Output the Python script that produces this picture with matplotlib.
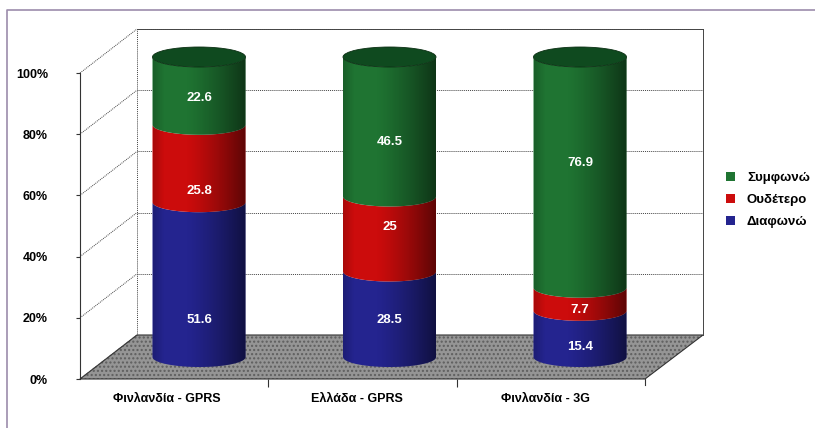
import matplotlib.pyplot as plt
import numpy as np
from matplotlib.patches import Polygon, Ellipse, Patch

plt.rcParams['font.family'] = ['Liberation Sans', 'DejaVu Sans']

categories = ['Φινλανδία - GPRS', 'Ελλάδα - GPRS', 'Φινλανδία - 3G']
series = ['Διαφωνώ', 'Ουδέτερο', 'Συμφωνώ']
diafono = [51.6, 28.5, 15.4]
oudetero = [25.8, 25, 7.7]
symfono = [22.6, 46.5, 76.9]
yticks = [0, 20, 40, 60, 80, 100]

# where the value labels sit inside each segment (in %)
label_y = [[12.3, 55.3, 86.3],
           [12.3, 43.3, 71.7],
           [3.3, 15.7, 64.7]]

colors = ['#24248f', '#cc0c0c', '#1f7432']
top_col = '#0f4a1f'

W, H = 815, 428
fig = plt.figure(figsize=(W / 100, H / 100), dpi=100)


def rect(x0, y0, x1, y1):
    # pixel box (top-left origin) -> figure fraction
    return [x0 / W, (H - y1) / H, (x1 - x0) / W, (y1 - y0) / H]


# background: frame, floor, side wall
bg = fig.add_axes([0, 0, 1, 1], zorder=0)
bg.set_xlim(0, W)
bg.set_ylim(H, 0)
bg.axis('off')
bg.plot([7, 7, W], [H, 10, 10], color='#9c8cab', lw=1.2)

fb, bb, sc = 379, 335, 3.06
floor = [(80, fb), (645, fb), (703, bb), (137, bb)]
bg.add_patch(Polygon(floor, closed=True, facecolor='#959595', edgecolor='#5e5e5e',
                     hatch='....', lw=0))
bg.add_patch(Polygon(floor, closed=True, facecolor='none', edgecolor='#333333', lw=0.8))
for p in yticks:
    bg.plot([80, 137], [fb - sc * p, bb - sc * p], color='#444444', lw=0.7,
            ls=(0, (1, 1)))
bg.plot([137, 137], [bb, bb - sc * 100], color='#444444', lw=0.7, ls=(0, (1, 1)))
bg.plot([645, 645], [fb, fb + 6], color='#333333', lw=0.8)

# back wall
axb = fig.add_axes(rect(137, 29, 703, 335), zorder=1)
axb.set_facecolor('none')
axb.set_xlim(0, 1)
axb.set_ylim(0, 100)
for p in yticks[1:]:
    axb.axhline(p, color='#444444', lw=0.7, ls=(0, (1, 1)))
for s in ['left', 'bottom']:
    axb.spines[s].set_visible(False)
for s in ['top', 'right']:
    axb.spines[s].set_color('#444444')
    axb.spines[s].set_linewidth(0.7)
    axb.spines[s].set_linestyle((0, (1, 1)))
axb.set_xticks([])
axb.set_yticks([])

# front axis with the tick labels
axf = fig.add_axes(rect(80, 73, 645, 379), zorder=2)
axf.set_facecolor('none')
axf.set_xlim(0, 3)
axf.set_ylim(0, 100)
for s in ['top', 'right', 'bottom']:
    axf.spines[s].set_visible(False)
axf.spines['left'].set_color('#333333')
axf.spines['left'].set_linewidth(0.8)
axf.set_yticks(yticks)
axf.set_yticklabels([f'{p}%' for p in yticks], fontsize=9, fontweight='bold')
axf.tick_params(axis='y', length=3, width=0.8, color='#333333', pad=20)
axf.set_xticks([0.46, 1.47, 2.47])
axf.set_xticklabels(categories, fontsize=9, fontweight='bold')
axf.set_xticks([1, 2], minor=True)
axf.tick_params(axis='x', which='major', length=0, pad=10)
axf.tick_params(axis='x', which='minor', length=6, width=0.8, color='#333333')

# cylinders (axes padded by 10% above and below so caps are not cut)
ax = fig.add_axes(rect(103.75, 27, 675.25, 387), zorder=3)
ax.set_facecolor('none')
ax.axis('off')

cw = 93 / 190.5
eh = 20 / 3.0
theta = np.linspace(0, np.pi, 60)
grad = np.linspace(0, 1, 200)
shade = np.clip((grad - 0.35) / 0.65, 0, 1) ** 1.3 * 0.55 + np.clip(0.12 - grad, 0, 1) * 1.5

vals = np.array([diafono, oudetero, symfono]).T
for i in range(len(categories)):
    bottom = 0
    for j in range(len(series)):
        v = vals[i, j]
        top = bottom + v
        xs_b = i + cw / 2 * np.cos(theta[::-1])
        ys_b = bottom - eh / 2 * np.sin(theta[::-1])
        xs_t = i + cw / 2 * np.cos(theta)
        ys_t = top - eh / 2 * np.sin(theta)
        pts = np.column_stack([np.concatenate([xs_b, xs_t]),
                               np.concatenate([ys_b, ys_t])])
        poly = Polygon(pts, closed=True, facecolor=colors[j], edgecolor='none', zorder=2)
        ax.add_patch(poly)
        img = np.zeros((1, 200, 4))
        img[0, :, 3] = shade
        im = ax.imshow(img, extent=[i - cw / 2, i + cw / 2, bottom - eh, top],
                       aspect='auto', zorder=3, interpolation='bilinear')
        im.set_clip_path(poly)
        ax.text(i, label_y[i][j], f'{v:g}', color='white', fontsize=9.5,
                fontweight='bold', ha='center', va='center', zorder=5)
        bottom = top
    ax.add_patch(Ellipse((i, bottom), cw, eh, facecolor=top_col,
                         edgecolor='#0a2e12', lw=0.6, zorder=4))
ax.set_xlim(-0.5, 2.5)
ax.set_ylim(-10, 110)

handles = [Patch(facecolor=colors[j], edgecolor='none') for j in [2, 1, 0]]
fig.legend(handles, [series[j] for j in [2, 1, 0]], loc='center left',
           bbox_to_anchor=(714 / W, 1 - 200 / H), frameon=False,
           prop={'size': 9.5, 'weight': 'bold'},
           handlelength=0.7, handleheight=0.7, handletextpad=0.9, labelspacing=0.75)

plt.savefig('out.png', dpi=100)
